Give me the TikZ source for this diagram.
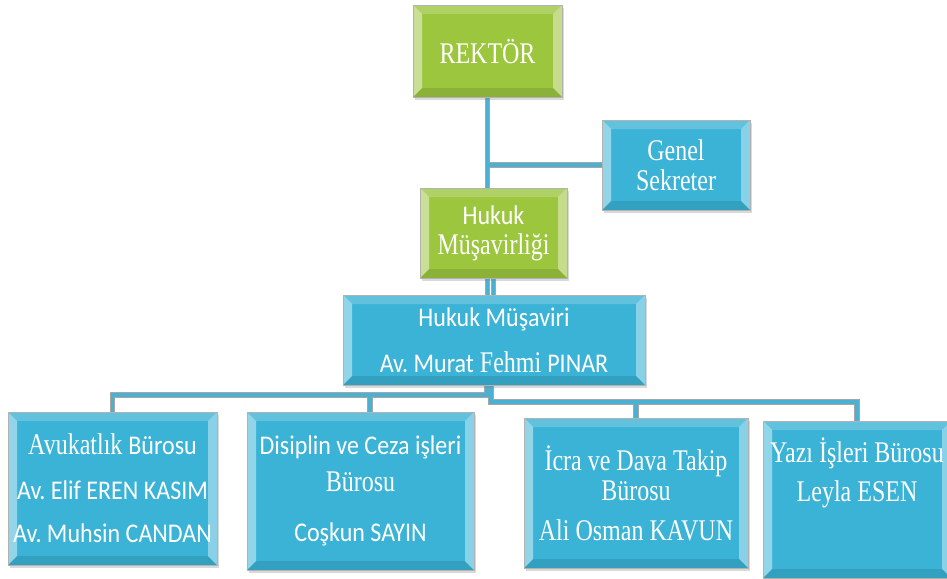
\documentclass[tikz,border=0pt]{standalone}
\usepackage{fontspec}
\setmainfont{Liberation Serif}[FakeStretch=0.8]
\newfontfamily\cb{Carlito}[Scale=0.9, FakeStretch=0.89]
\usepackage{tikz}
\usetikzlibrary{calc, positioning, shadows, backgrounds}

\definecolor{boxblue}{HTML}{3BB3D6}
\definecolor{boxgreen}{HTML}{9DC63F}
\definecolor{lineblue}{HTML}{4BB0D2}

\frenchspacing
\begin{document}
\begin{tikzpicture}[x=1pt, y=-1pt, >=stealth]
	\tikzstyle{bevel} = [path picture={
		\path (path picture bounding box.north west) coordinate (bnw)
			(path picture bounding box.south east) coordinate (bse);
		\fill[white, opacity=.45] (bnw) -- (bnw |- bse) -- ($(bnw |- bse)+(9pt,9pt)$) -- ($(bnw)+(9pt,-9pt)$) -- cycle;
		\fill[white, opacity=.4] (bse |- bnw) -- (bse) -- ($(bse)+(-9pt,9pt)$) -- ($(bse |- bnw)+(-9pt,-9pt)$) -- cycle;
		\fill[white, opacity=.2] (bnw) -- (bse |- bnw) -- ($(bse |- bnw)+(-9pt,-9pt)$) -- ($(bnw)+(9pt,-9pt)$) -- cycle;
		\fill[black, opacity=.1] (bnw |- bse) -- (bse) -- ($(bse)+(-9pt,9pt)$) -- ($(bnw |- bse)+(9pt,9pt)$) -- cycle;
	}]
	\tikzstyle{unit} = [rectangle, draw=black!30, thin, fill=boxblue, text=white, align=center,
		inner sep=0pt, font=\fontsize{30}{30}\selectfont, bevel,
		drop shadow={opacity=.3, shadow xshift=2pt, shadow yshift=-3pt}]
	\tikzstyle{head} = [unit, fill=boxgreen]

	\useasboundingbox (0,0) rectangle (947,578);

	% units
	\node[head, minimum width=149pt, minimum height=92pt] (rektor) at (487.5,51) {REKT\"OR};
	\node[unit, minimum width=148pt, minimum height=90pt] (gs) at (676,165) {Genel\\Sekreter};
	\node[head, minimum width=147pt, minimum height=90pt] (hmlik) at (493.5,233) {{\cb Hukuk}\\M\"u\c{s}avirli\u{g}i};
	\node[unit, minimum width=302pt, minimum height=90pt] (hmr) at (494,340)
		{{\cb Hukuk M\"u\c{s}aviri}\\[16pt]{\cb Av. Murat} Fehmi {\cb PINAR}};

	\node[unit, minimum width=209pt, minimum height=153pt] (avuk) at (112.5,488.5)
		{Avukatl\i k {\cb B\"urosu}\\[15pt]{\cb Av. Elif EREN KASIM}\\[13pt]{\cb Av. Muhsin CANDAN}};
	\node[unit, minimum width=227pt, minimum height=158pt] (disip) at (360.5,491)
		{{\cb Disiplin ve Ceza i\c{s}leri}\\[7pt]B\"urosu\\[20pt]{\cb Co\c{s}kun SAYIN}};
	\node[unit, minimum width=224pt, minimum height=150pt] (icra) at (636,493)
		{\.Icra ve Dava Takip\\[0pt]B\"urosu\\[10pt]Ali Osman KAVUN};
	\node[unit, minimum width=188pt, minimum height=157pt, text depth=60pt] (yazi) at (857,499.5)
		{Yaz\i{} \.I\c{s}leri B\"urosu\\[9pt]Leyla ESEN};

	% bus points
	\coordinate (lbus) at (487,395);
	\coordinate (rbus) at (491,402);
	\coordinate (dtop) at (370,395);

	% connectors
	\begin{scope}[on background layer]
		\foreach \w/\c in {5.5pt/black!35, 3.8pt/lineblue} {
			\draw[line width=\w, \c] (rektor.south) -- (rektor.south |- hmr.north);
			\draw[line width=\w, \c] (rektor.south |- gs.west) -- (gs.west);
			\draw[line width=\w, \c] (hmlik.south) -- (hmlik.south |- hmr.north);
			\draw[line width=\w, \c] (hmr.south -| lbus) -- (lbus) -| (avuk.north);
			\draw[line width=\w, \c] (dtop) -- (dtop |- disip.north);
			\draw[line width=\w, \c] (hmr.south -| rbus) -- (rbus) -| (yazi.north);
			\draw[line width=\w, \c] (rbus -| icra.north) -- (icra.north);
		}
	\end{scope}
\end{tikzpicture}
\end{document}
